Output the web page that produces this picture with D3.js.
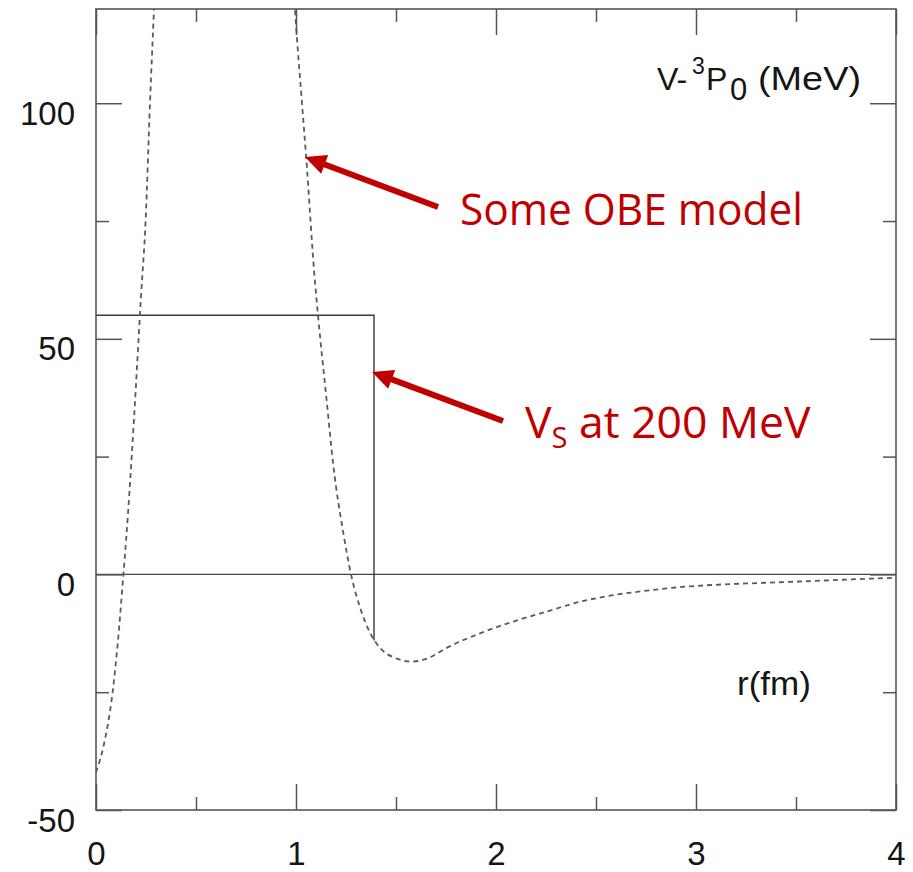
<!DOCTYPE html>
<html>
<head>
<meta charset="utf-8">
<script src="https://cdn.jsdelivr.net/npm/d3@7"></script>
<style>
  html, body { margin: 0; padding: 0; background: #fff; }
  svg { display: block; }
</style>
</head>
<body>
<svg id="chart" width="913" height="872"></svg>
<script>
// ---------------- data ----------------
const xMajorTicks = [0, 1, 2, 3, 4];
const xMinorTicks = [0.5, 1.5, 2.5, 3.5];
const yMajorTicks = [-50, 0, 50, 100];
const yMinorTicks = [-25, 25, 75];

// square-well potential V_S at 200 MeV (r in fm, V in MeV)
const squareWellR = [0, 1.39, 1.39];
const squareWellV = [55, 55, -14];

// OBE model potential (dashed); null marks the off-scale repulsive core
const obeR = [0, 0.04, 0.083, 0.11, 0.137, 0.15, 0.19, 0.225, 0.248, 0.27, 0.29, 0.31,
              null,
              0.975, 0.995, 1.03, 1.05, 1.095, 1.11, 1.153, 1.187, 1.237, 1.275, 1.32, 1.37,
              1.42, 1.5, 1.58, 1.66, 1.753, 1.92, 2.087, 2.253, 2.42, 2.587, 2.753, 2.92,
              3.1, 3.3, 3.52, 3.75, 4.0];
const obeV = [-42, -36, -25, -14, 0, 7, 33, 59, 75, 100, 120, 140,
              null,
              135, 120, 100, 89, 62, 55, 37, 23, 8.7, 0, -7, -12.4,
              -15.6, -17.8, -18.5, -17.8, -15.6, -12.5, -10.0, -7.9, -5.8, -4.4, -3.45, -2.7,
              -2.2, -1.85, -1.5, -1.1, -0.7];

const xLabelText = "r(fm)";
const annotation1 = "Some OBE model";
const annotation2Main = "V", annotation2Sub = "S", annotation2Rest = " at 200 MeV";

// ---------------- layout ----------------
const svg = d3.select("#chart");
const L = 96, R = 896, T = 9, B = 810;
const x = d3.scaleLinear().domain([0, 4]).range([L, R]);
const y = d3.scaleLinear().domain([-50, 120]).range([B, T]);

const axisFont = "'Liberation Sans', Arial, Helvetica, sans-serif";
const redFont = "'Open Sans', 'Noto Sans', sans-serif";
const red = "#C00000";
const frameColor = "#555";
const textColor = "#151515";

svg.append("defs").append("clipPath").attr("id", "plotClip")
  .append("rect").attr("x", L).attr("y", T).attr("width", R - L).attr("height", B - T);

// zero line
svg.append("line")
  .attr("x1", x(0)).attr("x2", x(4)).attr("y1", y(0)).attr("y2", y(0))
  .attr("stroke", "#444").attr("stroke-width", 1.4);

// square well
const swData = squareWellR.map((r, i) => [r, squareWellV[i]]);
svg.append("path")
  .datum(swData)
  .attr("d", d3.line().x(d => x(d[0])).y(d => y(d[1])))
  .attr("fill", "none").attr("stroke", "#3a3a3a").attr("stroke-width", 1.4);

// OBE dashed curve
const obeData = obeR.map((r, i) => [r, obeV[i]]);
svg.append("path")
  .datum(obeData)
  .attr("clip-path", "url(#plotClip)")
  .attr("d", d3.line().defined(d => d[0] != null).curve(d3.curveMonotoneX)
    .x(d => x(d[0])).y(d => y(d[1])))
  .attr("fill", "none").attr("stroke", "#5a5a5a").attr("stroke-width", 1.8)
  .attr("stroke-dasharray", "5,4");

// ---------------- axes / frame ----------------
function styleAxis(g) {
  g.select(".domain").remove();
  g.selectAll(".tick line").attr("stroke", frameColor).attr("stroke-width", 1.5);
}
const major = 26, minor = 13;
const sides = [
  [d3.axisBottom(x), `translate(0,${B})`, xMajorTicks, xMinorTicks],
  [d3.axisTop(x), `translate(0,${T})`, xMajorTicks, xMinorTicks],
  [d3.axisLeft(y), `translate(${L},0)`, yMajorTicks, yMinorTicks],
  [d3.axisRight(y), `translate(${R},0)`, yMajorTicks, yMinorTicks]
];
sides.forEach(([ax, tr, maj, min]) => {
  svg.append("g").attr("transform", tr)
    .call(ax.tickValues(maj).tickSize(-major).tickFormat("")).call(styleAxis);
  svg.append("g").attr("transform", tr)
    .call(ax.tickValues(min).tickSize(-minor).tickFormat("")).call(styleAxis);
});

// tick labels (plain hyphen for negatives, as in the original)
const fmt = d => String(d);
const xLab = svg.append("g").attr("transform", `translate(0,${B})`)
  .call(d3.axisBottom(x).tickValues(xMajorTicks).tickSize(0).tickPadding(0).tickFormat(fmt));
xLab.select(".domain").remove();
xLab.selectAll("text").attr("y", 55).attr("dy", null)
  .attr("font-family", axisFont).attr("font-size", 33).attr("fill", textColor);

const yLab = svg.append("g").attr("transform", `translate(${L},0)`)
  .call(d3.axisLeft(y).tickValues(yMajorTicks).tickSize(0).tickPadding(21).tickFormat(fmt));
yLab.select(".domain").remove();
yLab.selectAll("text").attr("dy", 21)
  .attr("font-family", axisFont).attr("font-size", 33).attr("fill", textColor);

// frame
svg.append("rect").attr("x", L).attr("y", T).attr("width", R - L).attr("height", B - T)
  .attr("fill", "none").attr("stroke", frameColor).attr("stroke-width", 1.6);

// axis titles
const yt = svg.append("text").attr("font-family", axisFont).attr("font-size", 32).attr("fill", textColor);
yt.append("tspan").attr("x", 657).attr("y", 90).text("V-");
yt.append("tspan").attr("x", 692).attr("y", 74).attr("font-size", 23).text("3");
yt.append("tspan").attr("x", 706).attr("y", 90).text("P");
yt.append("tspan").attr("x", 730).attr("y", 100).attr("font-size", 31).text("0");
yt.append("tspan").attr("x", 758).attr("y", 90).attr("font-size", 33)
  .attr("textLength", 103).attr("lengthAdjust", "spacingAndGlyphs").text("(MeV)");

svg.append("text").attr("x", 737).attr("y", 695)
  .attr("font-family", axisFont).attr("font-size", 34).attr("fill", textColor)
  .attr("textLength", 74).attr("lengthAdjust", "spacingAndGlyphs")
  .text(xLabelText);

// ---------------- annotations ----------------
function arrow(x1, y1, x2, y2) {
  const ang = Math.atan2(y2 - y1, x2 - x1);
  const hl = 21, hw = 10;
  const bx = x2 - hl * Math.cos(ang), by = y2 - hl * Math.sin(ang);
  svg.append("line").attr("x1", x1).attr("y1", y1).attr("x2", bx + 2 * Math.cos(ang)).attr("y2", by + 2 * Math.sin(ang))
    .attr("stroke", red).attr("stroke-width", 6);
  const px = -Math.sin(ang), py = Math.cos(ang);
  svg.append("polygon")
    .attr("points", [[x2, y2], [bx + hw * px, by + hw * py], [bx - hw * px, by - hw * py]].map(p => p.join(",")).join(" "))
    .attr("fill", red);
}
arrow(438, 207, 305, 157);
arrow(503, 421, 372, 372);

svg.append("text").attr("x", 460).attr("y", 225)
  .attr("font-family", redFont).attr("font-size", 44).attr("fill", red)
  .attr("textLength", 343).attr("lengthAdjust", "spacingAndGlyphs")
  .text(annotation1);

const t2 = svg.append("text").attr("x", 525).attr("y", 438)
  .attr("font-family", redFont).attr("font-size", 44.5).attr("fill", red);
t2.append("tspan").text(annotation2Main);
t2.append("tspan").attr("font-size", 29).attr("dy", 10).text(annotation2Sub);
t2.append("tspan").attr("dy", -10).text(annotation2Rest);
</script>
</body>
</html>
